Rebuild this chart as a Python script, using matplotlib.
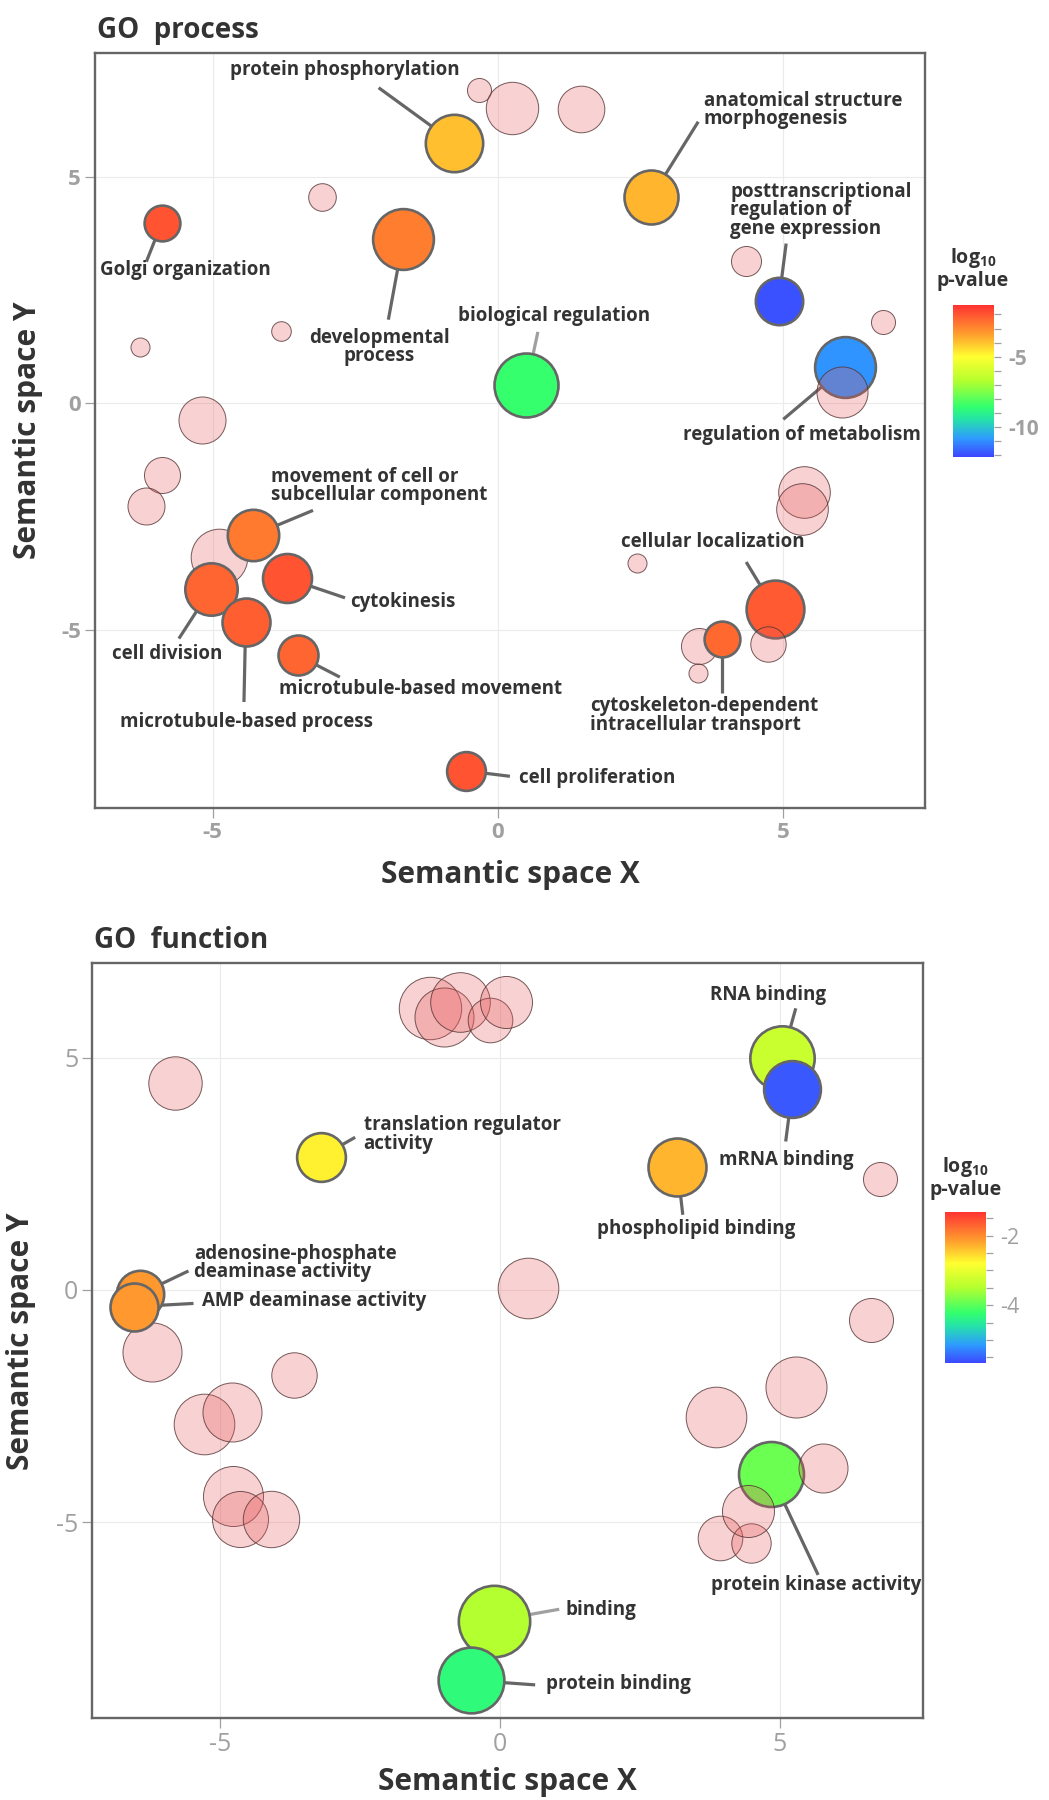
import numpy as np
import matplotlib.pyplot as plt
from matplotlib.colors import LinearSegmentedColormap, Normalize

plt.rcParams['font.family'] = ['Open Sans', 'DejaVu Sans']
plt.rcParams['axes.unicode_minus'] = False
plt.rcParams['mathtext.fontset'] = 'custom'
plt.rcParams['mathtext.rm'] = 'Open Sans'
plt.rcParams['mathtext.bf'] = 'Open Sans:bold'

W, H = 1049, 1800

# ---- GO process (biological process) ----
# nan in logp = term not enriched, drawn as a pale background bubble
proc_terms = [
    '', '', '', '', '', '', '', '', '', '', '', '', '', '', '', '', '',
    'Golgi organization', 'developmental process', 'protein phosphorylation',
    'biological regulation', 'anatomical structure morphogenesis',
    'posttranscriptional regulation of gene expression', 'regulation of metabolism',
    'cell division', 'movement of cell or subcellular component', 'cytokinesis',
    'microtubule-based process', 'microtubule-based movement', 'cell proliferation',
    'cellular localization', 'cytoskeleton-dependent intracellular transport',
    '', '',
]
proc_x = [-3.08, -0.33, 0.24, -6.27, -3.80, -5.18, 1.46, 4.34, 6.75, -5.88, -6.16,
          -4.89, 5.37, 5.32, 2.43, 3.52, 3.51,
          -5.89, -1.66, -0.77, 0.50, 2.69, 4.92, 6.09, -5.03, -4.29, -3.69,
          -4.42, -3.51, -0.56, 4.85, 3.93,
          6.03, 4.73]
proc_y = [4.56, 6.93, 6.53, 1.24, 1.60, -0.37, 6.49, 3.14, 1.79, -1.58, -2.27,
          -3.39, -1.96, -2.33, -3.53, -5.36, -5.96,
          3.99, 3.63, 5.76, 0.40, 4.56, 2.26, 0.81, -4.10, -2.91, -3.86,
          -4.82, -5.56, -8.11, -4.54, -5.21,
          0.26, -5.31]
proc_size = [1.43, 1.25, 2.67, 1.00, 1.03, 2.40, 2.38, 1.55, 1.25, 1.85, 1.90,
             2.88, 2.63, 2.63, 1.00, 1.85, 1.00,
             1.92, 3.17, 3.00, 3.33, 2.83, 2.50, 3.17, 2.75, 2.70, 2.58,
             2.53, 2.13, 2.07, 3.02, 1.92,
             2.60, 1.82]
nan = np.nan
proc_logp = [nan] * 17 + [-2.0, -2.8, -3.95, -8.5, -3.8, -11.9, -10.9, -2.3, -2.7,
                          -2.0, -2.2, -2.3, -2.0, -2.1, -2.4] + [nan, nan]

# ---- GO function (molecular function) ----
func_terms = [''] * 20 + [
    'translation regulator activity', 'adenosine-phosphate deaminase activity',
    'AMP deaminase activity', 'RNA binding', 'mRNA binding', 'phospholipid binding',
    'protein kinase activity', 'binding', 'protein binding',
] + ['', '']
func_x = [-1.25, -1.00, -0.71, -0.18, 0.11, -5.82, -6.22, 0.51, 6.79, 6.64,
          -3.68, -5.30, -4.79, -4.78, -4.64, -4.10, 3.87, 5.29, 3.94, 4.49,
          -3.20, -6.44, -6.55, 5.04, 5.23, 3.17, 4.84, -0.10, -0.52,
          5.78, 4.43]
func_y = [6.08, 5.89, 6.21, 5.82, 6.21, 4.45, -1.34, 0.04, 2.39, -0.65,
          -1.83, -2.88, -2.62, -4.44, -4.93, -4.94, -2.74, -2.10, -5.34, -5.45,
          2.87, -0.09, -0.36, 4.99, 4.33, 2.66, -3.97, -7.13, -8.41,
          -3.83, -4.76]
func_size = [3.17, 3.00, 3.03, 2.28, 2.65, 2.72, 3.00, 3.08, 1.75, 2.25,
             2.32, 3.08, 3.00, 3.05, 2.85, 2.87, 3.08, 3.10, 2.28, 2.02,
             2.57, 2.50, 2.53, 3.35, 2.97, 3.03, 3.38, 3.70, 3.42,
             2.50, 2.65]
func_logp = [nan] * 20 + [-2.7, -2.1, -2.1, -3.3, -5.55, -2.3, -3.9, -3.5, -4.3] + [nan, nan]

# label placement: text x, text y, alignment, leader start x, leader start y
proc_labels = {
    'protein phosphorylation': ('protein phosphorylation', -2.69, 7.36, 'center', -2.09, 6.97),
    'Golgi organization': ('Golgi organization', -5.47, 2.94, 'center', -6.16, 3.13),
    'developmental process': ('developmental\nprocess', -2.08, 1.25, 'center', -1.92, 1.85),
    'biological regulation': ('biological regulation', 0.99, 1.93, 'center', 0.70, 1.58),
    'anatomical structure morphogenesis': ('anatomical structure\nmorphogenesis', 3.61, 6.48, 'left', 3.51, 6.22),
    'posttranscriptional regulation of gene expression':
        ('posttranscriptional\nregulation of\ngene expression', 4.07, 4.27, 'left', 5.05, 3.53),
    'regulation of metabolism': ('regulation of metabolism', 5.33, -0.70, 'center', 5.00, -0.35),
    'movement of cell or subcellular component':
        ('movement of cell or\nsubcellular component', -3.98, -1.82, 'left', -3.24, -2.36),
    'cytokinesis': ('cytokinesis', -2.59, -4.39, 'left', -2.68, -4.29),
    'cell division': ('cell division', -5.79, -5.53, 'center', -5.59, -5.19),
    'microtubule-based process': ('microtubule-based process', -4.41, -7.03, 'center', -4.45, -6.59),
    'microtubule-based movement': ('microtubule-based movement', -3.83, -6.31, 'left', -2.77, -6.04),
    'cell proliferation': ('cell proliferation', 0.37, -8.27, 'left', 0.21, -8.23),
    'cellular localization': ('cellular localization', 3.77, -3.06, 'center', 4.35, -3.50),
    'cytoskeleton-dependent intracellular transport':
        ('cytoskeleton-dependent\nintracellular transport', 1.61, -6.89, 'left', 3.93, -6.40),
}
func_labels = {
    'RNA binding': ('RNA binding', 4.80, 6.36, 'center', 5.29, 6.07),
    'mRNA binding': ('mRNA binding', 5.12, 2.80, 'center', 5.11, 3.20),
    'phospholipid binding': ('phospholipid binding', 3.51, 1.31, 'center', 3.27, 1.62),
    'translation regulator activity': ('translation regulator\nactivity', -2.44, 3.35, 'left', -2.59, 3.29),
    'adenosine-phosphate deaminase activity':
        ('adenosine-phosphate\ndeaminase activity', -5.47, 0.58, 'left', -5.57, 0.41),
    'AMP deaminase activity': ('AMP deaminase activity', -5.32, -0.24, 'left', -5.48, -0.29),
    'protein kinase activity': ('protein kinase activity', 5.65, -6.36, 'center', 5.69, -6.14),
    'binding': ('binding', 1.17, -6.90, 'left', 1.06, -6.88),
    'protein binding': ('protein binding', 0.82, -8.50, 'left', 0.63, -8.51),
}
light_leaders = {'biological regulation', 'binding'}

cmap = LinearSegmentedColormap.from_list('pval', [
    (0.00, '#3C46FF'), (0.12, '#2E9BFF'), (0.25, '#25E5A5'), (0.33, '#33FF6E'),
    (0.50, '#B4FF2E'), (0.66, '#FFFF30'), (0.80, '#FFA32E'), (1.00, '#FF3232')])

TXT = '#333333'
GREY = '#666666'
TICK = '#A0A0A0'
BG_FACE = (0.91, 0.34, 0.35, 0.27)
BG_EDGE = (0.33, 0.20, 0.20, 0.8)


def fig_rect(x0, y0, x1, y1):
    return [x0 / W, 1 - y1 / H, (x1 - x0) / W, (y1 - y0) / H]


def bubble_panel(ax, cax, terms, xs, ys, sizes, logp, labels, norm, xlim, ylim,
                 title, tick_fs, tick_weight, cticks, clabels, cb_fs, cb_weight):
    ax.set_xlim(*xlim)
    ax.set_ylim(*ylim)
    ax.set_xticks([-5, 0, 5])
    ax.set_yticks([-5, 0, 5])
    ax.grid(True, color='#EBEBEB', lw=0.8)
    ax.set_axisbelow(True)
    for sp in ax.spines.values():
        sp.set_color(GREY)
        sp.set_linewidth(1.7)
    ax.tick_params(length=7.5, width=0.9, color=TICK, labelcolor=TICK,
                   labelsize=tick_fs, pad=2.5)
    for lab in ax.get_xticklabels() + ax.get_yticklabels():
        lab.set_fontweight(tick_weight)

    # leader lines sit under the bubbles
    pos = {t: (x, y) for t, x, y in zip(terms, xs, ys) if t}
    for term, (txt, tx, ty, ha, lx, ly) in labels.items():
        bx, by = pos[term]
        col = '#A0A0A0' if term in light_leaders else GREY
        ax.plot([lx, bx], [ly, by], color=col, lw=2.3, solid_capstyle='butt', zorder=2)
        ax.text(tx, ty, txt, ha=ha, va='center', fontsize=13.5, fontweight='bold',
                color=TXT, linespacing=0.9, zorder=10)

    for x, y, s, p in zip(xs, ys, sizes, logp):
        if np.isnan(p):
            lw = 0.7
            d = 2 * s * 10 * 0.72 - lw
            ax.scatter(x, y, s=d ** 2, facecolor=BG_FACE, edgecolor=BG_EDGE,
                       linewidths=lw, zorder=3)
        else:
            lw = 1.9
            d = 2 * s * 10 * 0.72 - lw
            ax.scatter(x, y, s=d ** 2, facecolor=cmap(norm(p)), edgecolor=GREY,
                       linewidths=lw, zorder=3)

    ax.text(0.002, 1.02, title, transform=ax.transAxes, ha='left', va='baseline',
            fontsize=20, fontweight='bold', color=TXT)
    ax.set_xlabel('Semantic space X', fontsize=21.5, fontweight='bold', color=TXT)
    ax.set_ylabel('Semantic space Y', fontsize=21.5, fontweight='bold', color=TXT)

    sm = plt.cm.ScalarMappable(norm=norm, cmap=cmap)
    cb = plt.colorbar(sm, cax=cax)
    cb.outline.set_visible(False)
    cb.set_ticks(cticks)
    cb.set_ticklabels(clabels)
    cax.tick_params(length=5, width=0.9, color=TICK, labelcolor=TICK,
                    labelsize=cb_fs, pad=5)
    for lab in cax.get_yticklabels():
        lab.set_fontweight(cb_weight)


fig = plt.figure(figsize=(W / 100, H / 100), dpi=100)

ax1 = fig.add_axes(fig_rect(95, 53.3, 925.4, 808))
cax1 = fig.add_axes(fig_rect(952.7, 305, 994, 456.7))
norm1 = Normalize(vmin=-12.1, vmax=-1.33)
ct1 = list(range(-2, -13, -1))
cl1 = ['-5' if t == -5 else '-10' if t == -10 else '' for t in ct1]
bubble_panel(ax1, cax1, proc_terms, proc_x, proc_y, proc_size, proc_logp, proc_labels,
             norm1, (-7.06, 7.49), (-8.93, 7.73), 'GO  process', 16, 'bold',
             ct1, cl1, 15, 'bold')
ax1.xaxis.set_label_coords(0.5, -0.089)
ax1.xaxis.label.set_va('center')
ax1.yaxis.set_label_coords(-0.0802, 0.5)
ax1.yaxis.label.set_va('center')

ax2 = fig.add_axes(fig_rect(92.3, 963.3, 922.7, 1718.3))
cax2 = fig.add_axes(fig_rect(945, 1211.7, 986, 1363.3))
norm2 = Normalize(vmin=-5.67, vmax=-1.31)
ct2 = [-1.5, -2, -2.5, -3, -3.5, -4, -4.5, -5, -5.5]
cl2 = ['-2' if t == -2 else '-4' if t == -4 else '' for t in ct2]
bubble_panel(ax2, cax2, func_terms, func_x, func_y, func_size, func_logp, func_labels,
             norm2, (-7.29, 7.56), (-9.23, 7.04), 'GO  function', 18, 'normal',
             ct2, cl2, 15.5, 'normal')
ax2.xaxis.set_label_coords(0.5, -0.0847)
ax2.xaxis.label.set_va('center')
ax2.yaxis.set_label_coords(-0.0858, 0.5)
ax2.yaxis.label.set_va('center')

# colour bar titles
for cx, ly, py in [(973, 263, 286), (965.5, 1172, 1195)]:
    fig.text(cx / W, 1 - ly / H, r'log$_{\mathbf{10}}$', ha='center', va='baseline',
             fontsize=14, fontweight='bold', color=TXT)
    fig.text(cx / W, 1 - py / H, 'p-value', ha='center', va='baseline', fontsize=14,
             fontweight='bold', color=TXT)

fig.savefig('out.png', dpi=100)
